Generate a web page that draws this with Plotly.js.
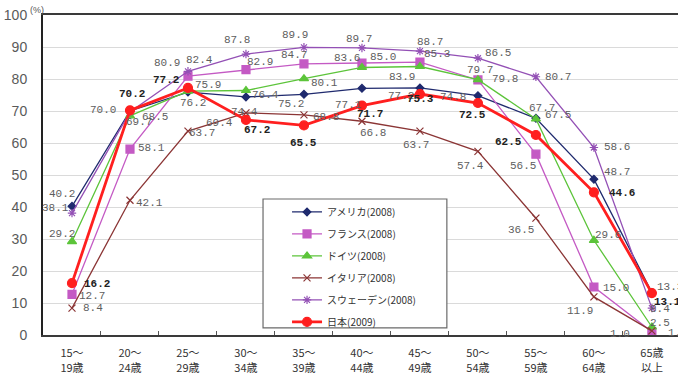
<!DOCTYPE html>
<html>
<head>
<meta charset="utf-8">
<script src="https://cdn.plot.ly/plotly-3.0.1.min.js"></script>
<style>
  html, body { margin: 0; padding: 0; background: #ffffff; }
  #chart { width: 678px; height: 376px; }
</style>
</head>
<body>
<div id="chart"></div>
<script>
// Female labour force participation rate by age group (%)
const ageGroups = ['15～<br>19歳', '20～<br>24歳', '25～<br>29歳', '30～<br>34歳', '35～<br>39歳',
                   '40～<br>44歳', '45～<br>49歳', '50～<br>54歳', '55～<br>59歳', '60～<br>64歳', '65歳<br>以上'];

const america = [40.2, 70.0, 75.9, 74.4, 75.2, 77.1, 77.2, 74.8, 67.7, 48.7, 13.3];
const france  = [12.7, 58.1, 80.9, 82.9, 84.7, 85.0, 85.3, 79.7, 56.5, 15.0, 1.0];
const germany = [29.2, 68.5, 76.2, 76.4, 80.1, 83.6, 83.9, 79.8, 67.5, 29.6, 2.5];
const italy   = [8.4, 42.1, 63.7, 69.4, 68.8, 66.8, 63.7, 57.4, 36.5, 11.9, 1.3];
const sweden  = [38.1, 69.7, 82.4, 87.8, 89.9, 89.7, 88.7, 86.5, 80.7, 58.6, 8.4];
const japan   = [16.2, 70.2, 77.2, 67.2, 65.5, 71.7, 75.3, 72.5, 62.5, 44.6, 13.1];

const seriesNames = ['アメリカ(2008)', 'フランス(2008)', 'ドイツ(2008)', 'イタリア(2008)', 'スウェーデン(2008)', '日本(2009)'];

// Value label nudges in screen pixels [right, down] for each point
const americaShift = [[-10,-12],[-27,-1],[20,-7],[-1,15],[-13,10],[-13,17],[-19,8],[-25,1],[6,-10],[23,-7],[18,-5]];
const franceShift  = [[20,2],[22,-1],[-21,-13],[14,-8],[-10,-9],[21,-6],[17,-8],[2,-10],[-13,12],[22,1],[-32,2]];
const germanyShift = [[-10,-8],[25,1],[5,12],[20,4],[21,4],[-15,-9],[-18,10],[27,-1],[22,-4],[14,-5],[8,-4]];
const italyShift   = [[21,0],[20,3],[14,2],[-26,10],[22,2],[11,12],[-4,14],[-7,15],[-15,12],[-14,14],[26,2]];
const swedenShift  = [[-17,-5],[9,10],[12,-11],[-9,-14],[-9,-12],[-3,-9],[10,-9],[20,-5],[22,0],[23,0],[8,1]];
const japanShift   = [[25,1],[2,-16],[-22,-8],[11,10],[0,18],[8,8],[1,5],[-5,12],[-27,7],[28,1],[16,9]];

const series = [
  { values: america, shift: americaShift, color: '#1f2a6e', width: 1.3, symbol: 'diamond', size: 6, labelColor: '#5e5e5e', bold: false },
  { values: france,  shift: franceShift,  color: '#c45ac4', width: 1.3, symbol: 'square', size: 8, labelColor: '#5e5e5e', bold: false },
  { values: germany, shift: germanyShift, color: '#5cc43a', width: 1.3, symbol: 'triangle-up', size: 8, labelColor: '#5e5e5e', bold: false },
  { values: italy,   shift: italyShift,   color: '#8b3535', width: 1.3, symbol: 'x-thin-open', size: 7, labelColor: '#5e5e5e', bold: false },
  { values: sweden,  shift: swedenShift,  color: '#9350b5', width: 1.3, symbol: 'asterisk-open', size: 7, labelColor: '#5e5e5e', bold: false },
  { values: japan,   shift: japanShift,   color: '#ff1f1f', width: 2.8, symbol: 'circle', size: 9, labelColor: '#222222', bold: true }
];

const traces = series.map((s, k) => ({
  type: 'scatter',
  mode: 'lines+markers',
  name: seriesNames[k],
  legendgroup: 'g' + k,
  x: ageGroups,
  y: s.values,
  line: { color: s.color, width: s.width },
  marker: { color: s.color, symbol: s.symbol, size: s.size, line: { color: s.color, width: 1.2 } },
  hoverinfo: 'skip'
}));

const annotations = [];
series.forEach(s => {
  s.values.forEach((v, i) => {
    annotations.push({
      x: ageGroups[i], y: v, xref: 'x', yref: 'y',
      text: s.bold ? '<b>' + v.toFixed(1) + '</b>' : v.toFixed(1),
      showarrow: false, xanchor: 'center', yanchor: 'middle',
      xshift: s.shift[i][0], yshift: -s.shift[i][1],
      font: { family: 'Liberation Mono, monospace', size: 11, color: s.labelColor }
    });
  });
});

annotations.push({
  xref: 'paper', yref: 'paper', x: -0.0095, y: 1.016,
  text: '(%)', showarrow: false, xanchor: 'center', yanchor: 'middle',
  font: { family: 'Liberation Sans, Arial, sans-serif', size: 9, color: '#555555' }
});

const layout = {
  width: 678, height: 376,
  margin: { l: 43, r: 0, t: 15, b: 41, pad: 0 },
  paper_bgcolor: '#ffffff', plot_bgcolor: '#ffffff',
  showlegend: true,
  legend: {
    x: 0.3843, y: 0.43, xanchor: 'left', yanchor: 'top',
    bgcolor: 'rgba(0,0,0,0)', borderwidth: 0,
    traceorder: 'grouped', tracegroupgap: 3,
    font: { family: 'Noto Sans CJK JP, sans-serif', size: 10, color: '#333333' }
  },
  xaxis: {
    type: 'category',
    range: [-0.5, 10.45],
    showgrid: false, zeroline: false,
    showline: true, linecolor: '#3a3a3a', linewidth: 2, mirror: true,
    ticks: 'inside', tickson: 'boundaries', ticklen: 4, tickcolor: '#555555', tickwidth: 1,
    ticklabelstandoff: 7,
    tickfont: { family: 'Noto Sans CJK JP, sans-serif', size: 11, color: '#333333' },
    fixedrange: true
  },
  yaxis: {
    range: [0, 100], dtick: 10,
    showgrid: true, gridcolor: '#dadada', gridwidth: 1,
    zeroline: false,
    showline: true, linecolor: '#222222', linewidth: 2,
    ticks: '', ticklabelstandoff: 11,
    tickfont: { family: 'Liberation Sans, Arial, sans-serif', size: 14, color: '#5a5a5a' },
    fixedrange: true
  },
  shapes: [{
    type: 'rect', xref: 'paper', yref: 'paper', layer: 'above',
    x0: 0.3465, x1: 0.636, y0: 0.022, y1: 0.425,
    line: { color: '#6a6a6a', width: 1.2 }, fillcolor: '#ffffff'
  }],
  annotations: annotations
};

Plotly.newPlot('chart', traces, layout, { staticPlot: true, displayModeBar: false });
</script>
</body>
</html>
